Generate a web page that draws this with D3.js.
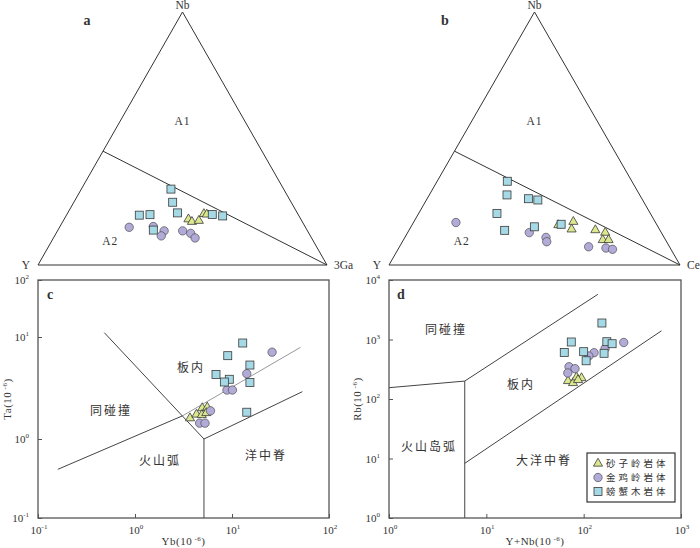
<!DOCTYPE html>
<html>
<head>
<meta charset="utf-8">
<script src="https://cdn.jsdelivr.net/npm/d3@7"></script>
<style>
body { margin: 0; background: #fff; }
svg text { font-family: "Liberation Serif", serif; fill: #333; }
.cn { font-family: "Noto Sans CJK SC", sans-serif; }
</style>
</head>
<body>
<svg id="chart" width="700" height="548"></svg>
<script>
// ---- data ----
// ternary a : [Nb, Y, 3Ga] (%)
const aTri = [[18.1,38.9,43.0],[17.1,38.2,44.7],[17.5,35.6,46.9],[20.2,32.5,47.3],[20.0,31.6,48.4]];
const aCir = [[14.9,61.0,24.1],[15.2,52.5,32.3],[13.5,49.6,36.9],[11.5,51.6,36.9],[13.5,43.2,43.3],[12.5,40.9,46.6],[10.7,40.3,49.0]];
const aSq  = [[30.0,39.0,31.0],[24.8,41.0,34.2],[20.6,41.4,38.0],[19.7,55.1,25.2],[19.9,51.3,28.8],[13.8,53.2,33.0],[20.0,29.7,50.3],[19.4,26.4,54.2]];
// ternary b : [Nb, Y, Ce] (%)
const bTri = [[15.8,33.9,50.3],[17.1,28.1,54.8],[14.1,30.2,55.7],[13.8,22.2,64.0],[12.8,19.3,67.9],[9.9,21.6,68.5],[9.9,19.6,70.5]];
const bCir = [[16.8,68.6,14.6],[12.8,45.4,41.8],[10.9,40.6,48.5],[9.2,41.2,49.6],[7.2,27.8,65.0],[6.7,22.1,71.2],[6.2,20.1,73.7]];
const bSq  = [[33.1,42.8,24.1],[27.7,45.6,26.7],[26.2,39.0,34.8],[25.7,36.0,38.3],[20.4,52.7,26.9],[13.7,53.4,32.9],[15.1,42.5,42.4],[16.1,32.8,51.1]];
const ternDivide = [[45,55,0],[0,0,100]];

// c : [Yb, Ta]
const cTri = [[3.69,1.60],[4.30,1.74],[4.93,2.01],[4.88,1.72],[5.56,2.04],[5.43,1.80]];
const cCir = [[25.9,7.10],[14.2,4.37],[8.87,3.02],[10.1,3.02],[6.0,1.89],[4.64,1.43],[5.27,1.43]];
const cSq  = [[12.9,8.73],[9.04,6.56],[15.3,5.31],[6.84,4.29],[9.38,3.85],[8.34,3.62],[15.3,3.58],[14.2,1.83]];
const cLines = [
  [[0.483,11.9],[5.14,1]],
  [[5.14,1],[5.14,0.1]],
  [[5.14,1],[53.1,2.91]],
  [[0.16,0.413],[3.10,1.69]]
];
const cGrey = [[3.10,1.69],[51.0,7.93]];

// d : [Y+Nb, Rb]
const dTri = [[69,201],[77.7,186],[84.4,232],[95,225],[87.5,209]];
const dCir = [[258,891],[128,600],[113,528],[166,706],[70.7,349],[81.5,323],[68.7,274]];
const dSq  = [[154,1893],[74.6,908],[173,918],[196,850],[63.2,605],[100,624],[162,586],[106,439]];
const dLines = [
  [[1,155],[6,200]],
  [[6,1],[6,200]],
  [[6,200],[140,5750]],
  [[6,8.3],[630,1400]]
];

const legendNames = ["砂子岭岩体","金鸡岭岩体","螃蟹木岩体"];
const cTicksX = [0.1,1,10,100], cTicksY = [0.1,1,10,100];
const dTicksX = [1,10,100,1000], dTicksY = [1,10,100,1000,10000];

// ---- styles ----
const colTri = "#dde88e", colCir = "#b2abd8", colSq = "#a6d9e6", stroke = "#3a3a3a";
const svg = d3.select("#chart");

function marker(g, kind, x, y) {
  if (kind === "tri") {
    g.append("path").attr("d", d3.symbol(d3.symbolTriangle, 36)())
      .attr("transform", `translate(${x},${y})`)
      .attr("fill", colTri).attr("stroke", stroke).attr("stroke-width", 0.8);
  } else if (kind === "cir") {
    g.append("circle").attr("cx", x).attr("cy", y).attr("r", 4.2)
      .attr("fill", colCir).attr("stroke", stroke).attr("stroke-width", 0.6);
  } else {
    g.append("rect").attr("x", x - 4).attr("y", y - 4).attr("width", 8).attr("height", 8)
      .attr("fill", colSq).attr("stroke", stroke).attr("stroke-width", 0.8);
  }
}

// ---- ternary ----
function ternary(x0, x1, yTop, yBot, groups, third, letter, letterX) {
  const g = svg.append("g");
  const xs = d3.scaleLinear().domain([0, 100]).range([x0, x1]);
  const ys = d3.scaleLinear().domain([0, 100]).range([yBot, yTop]);
  const pos = d => {
    const s = d[0] + d[1] + d[2];
    const nb = d[0] / s * 100, z = d[2] / s * 100;
    return [xs(z + nb / 2), ys(nb)];
  };
  const outline = [[100,0,0],[0,100,0],[0,0,100],[100,0,0]].map(pos);
  g.append("path").attr("d", d3.line()(outline)).attr("fill", "none")
    .attr("stroke", "#333").attr("stroke-width", 1);
  g.append("path").attr("d", d3.line()(ternDivide.map(pos))).attr("fill", "none")
    .attr("stroke", "#333").attr("stroke-width", 1);
  const top = pos([100,0,0]), left = pos([0,100,0]), right = pos([0,0,100]);
  g.append("text").attr("x", top[0]).attr("y", top[1] - 3).attr("text-anchor", "middle")
    .attr("font-size", 11.5).text("Nb");
  g.append("text").attr("x", left[0] - 8).attr("y", left[1] + 4).attr("text-anchor", "end")
    .attr("font-size", 11.5).text("Y");
  g.append("text").attr("x", right[0] + 7).attr("y", right[1] + 4)
    .attr("font-size", 11.5).text(third);
  g.append("text").attr("x", xs(50)).attr("y", ys(57) + 4).attr("text-anchor", "middle")
    .attr("font-size", 11.5).attr("letter-spacing", 1).text("A1");
  g.append("text").attr("x", xs(25)).attr("y", ys(9.5) + 4).attr("text-anchor", "middle")
    .attr("font-size", 11.5).attr("letter-spacing", 1).text("A2");
  g.append("text").attr("x", letterX).attr("y", 25).attr("text-anchor", "middle")
    .attr("font-size", 14).attr("font-weight", "bold").attr("fill", "#222").text(letter);
  groups.forEach(([kind, data]) => data.forEach(d => { const p = pos(d); marker(g, kind, p[0], p[1]); }));
}

ternary(38, 327, 12, 265, [["cir", aCir], ["tri", aTri], ["sq", aSq]], "3Ga", "a", 87);
ternary(389, 680, 12, 265, [["cir", bCir], ["tri", bTri], ["sq", bSq]], "Ce", "b", 445);

// ---- log panels ----
function supLabel(g, x, y, exp, anchor) {
  const t = g.append("text").attr("x", x).attr("y", y).attr("text-anchor", anchor).attr("font-size", 11);
  t.append("tspan").text("10");
  t.append("tspan").attr("dy", -5).attr("font-size", 7).text(exp);
}

function logPanel(opt) {
  const g = svg.append("g");
  const x = d3.scaleLog().domain(opt.xDom).range(opt.xRange);
  const y = d3.scaleLog().domain(opt.yDom).range(opt.yRange);
  const [L, R] = [opt.xRange[0], opt.xRange[opt.xRange.length - 1]];
  const [B, T] = [opt.yRange[0], opt.yRange[opt.yRange.length - 1]];

  // ticks inside
  g.append("g").attr("transform", `translate(${L},0)`)
    .call(d3.axisLeft(y).tickValues(opt.yTicks).tickSize(-4).tickFormat(""))
    .call(s => s.select(".domain").remove())
    .call(s => s.selectAll("line").attr("stroke", "#555"));
  g.append("g").attr("transform", `translate(0,${B})`)
    .call(d3.axisBottom(x).tickValues(opt.xTicks).tickSize(-4).tickFormat(""))
    .call(s => s.select(".domain").remove())
    .call(s => s.selectAll("line").attr("stroke", "#555"));

  opt.yTicks.forEach(v => supLabel(g, L - 9, y(v) + 4, String(Math.round(Math.log10(v))), "end"));
  opt.xTicks.forEach(v => supLabel(g, x(v) + 1, B + 16, String(Math.round(Math.log10(v))), "middle"));

  const line = d3.line().x(d => x(d[0])).y(d => y(d[1]));
  opt.lines.forEach(l => g.append("path").attr("d", line(l)).attr("fill", "none")
    .attr("stroke", "#444").attr("stroke-width", 1));
  if (opt.grey) g.append("path").attr("d", line(opt.grey)).attr("fill", "none")
    .attr("stroke", "#999").attr("stroke-width", 1);

  g.append("rect").attr("x", L).attr("y", T).attr("width", R - L).attr("height", B - T)
    .attr("fill", "none").attr("stroke", "#555").attr("stroke-width", 1.3);

  g.append("text").attr("x", L + 12).attr("y", T + 19).attr("text-anchor", "middle")
    .attr("font-size", 14).attr("font-weight", "bold").attr("fill", "#222").text(opt.letter);

  opt.regions.forEach(r => g.append("text").attr("class", "cn").attr("x", r[1]).attr("y", r[2])
    .attr("text-anchor", "middle").attr("font-size", 12).attr("letter-spacing", 2).text(r[0]));

  // axis titles
  const xt = g.append("text").attr("x", (L + R) / 2).attr("y", 545).attr("text-anchor", "middle")
    .attr("font-size", 11).attr("letter-spacing", 0.5);
  xt.append("tspan").text(opt.xTitle + "(10");
  xt.append("tspan").attr("dy", -4).attr("font-size", 7).text(" -6");
  xt.append("tspan").attr("dy", 4).text(")");
  const yt = g.append("text").attr("transform", `translate(${opt.yTitleX},${(T + B) / 2}) rotate(-90)`)
    .attr("text-anchor", "middle").attr("font-size", 11).attr("letter-spacing", 0.5);
  yt.append("tspan").text(opt.yTitle + "(10");
  yt.append("tspan").attr("dy", -4).attr("font-size", 7).text(" -6");
  yt.append("tspan").attr("dy", 4).text(")");

  opt.groups.forEach(([kind, data]) => data.forEach(d => marker(g, kind, x(d[0]), y(d[1]))));
  return g;
}

logPanel({
  xDom: [0.1, 100], xRange: [38, 329],
  yDom: [0.1, 1, 10, 100], yRange: [518, 439, 337, 280],
  xTicks: cTicksX, yTicks: cTicksY,
  lines: cLines, grey: cGrey, letter: "c",
  regions: [["板内", 191, 372], ["同碰撞", 111, 415], ["火山弧", 160, 465], ["洋中脊", 266, 460]],
  xTitle: "Yb", yTitle: "Ta", yTitleX: 11,
  groups: [["tri", cTri], ["cir", cCir], ["sq", cSq]]
});

logPanel({
  xDom: [1, 1000], xRange: [389, 681],
  yDom: [1, 10000], yRange: [518, 280],
  xTicks: dTicksX, yTicks: dTicksY,
  lines: dLines, letter: "d",
  regions: [["同碰撞", 446, 334], ["板内", 521, 389], ["火山岛弧", 429, 451], ["大洋中脊", 544, 465]],
  xTitle: "Y+Nb", yTitle: "Rb", yTitleX: 361,
  groups: [["tri", dTri], ["cir", dCir], ["sq", dSq]]
});

// legend
const lg = svg.append("g");
lg.append("rect").attr("x", 587).attr("y", 453).attr("width", 88).attr("height", 49)
  .attr("fill", "#fff").attr("stroke", "#333").attr("stroke-width", 1.2);
["tri", "cir", "sq"].forEach((k, i) => {
  const yy = 463.5 + i * 14;
  marker(lg, k, 598, yy);
  lg.append("text").attr("class", "cn").attr("x", 606).attr("y", yy + 3.5)
    .attr("font-size", 9.5).attr("letter-spacing", 3).text(legendNames[i]);
});
</script>
</body>
</html>
